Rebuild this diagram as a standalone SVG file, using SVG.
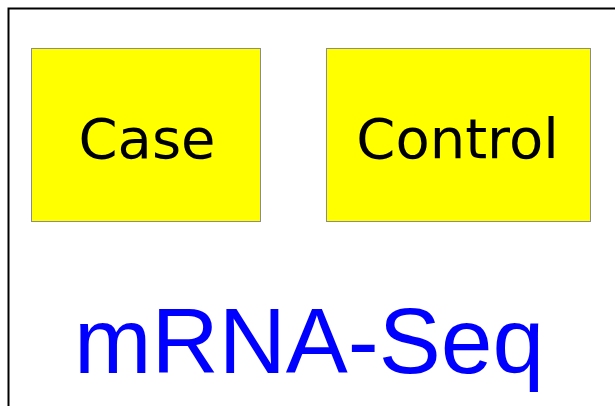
<svg xmlns="http://www.w3.org/2000/svg" width="615" height="406" viewBox="0 0 615 406">
<style>
.box{fill:#ffff00;stroke:#8c8c8c;stroke-width:1}
.lbl{font-family:"DejaVu Sans",sans-serif;font-size:56px;fill:#000;text-anchor:middle}
</style>
<rect width="615" height="406" fill="#fff"/>
<rect id="frame" x="8.5" y="8.5" width="620" height="420" fill="none" stroke="#000" stroke-width="2"/>
<g id="case"><rect class="box" x="31.5" y="48.5" width="229" height="173"/><text class="lbl" x="147" y="157.5">Case</text></g>
<g id="control"><rect class="box" x="326.5" y="48.5" width="264" height="173"/><text class="lbl" x="457.5" y="157.5">Control</text></g>
<g id="connectors"/>
<text id="title" x="74" y="372.5" font-family="Liberation Sans, Arial, sans-serif" font-size="93" fill="#0000ff">mRNA-Seq</text>
</svg>
